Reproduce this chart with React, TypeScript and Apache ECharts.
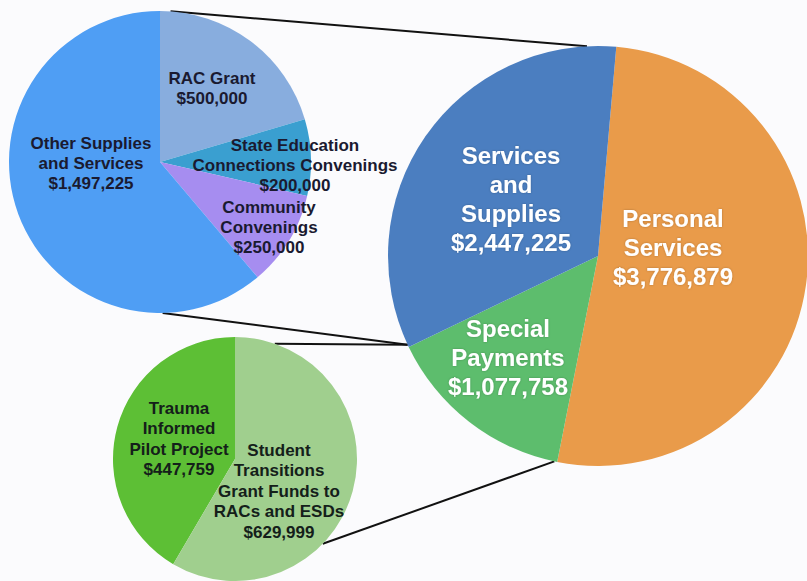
import React, { useEffect, useRef } from "react";
import * as echarts from "echarts";

// ---- Data ----
const mainNames = ["Personal\nServices", "Special\nPayments", "Services\nand\nSupplies"];
const mainValues = [3776879, 1077758, 2447225];

const supplyNames = [
  "RAC Grant",
  "State Education\nConnections Convenings",
  "Community\nConvenings",
  "Other Supplies\nand Services",
];
const supplyValues = [500000, 200000, 250000, 1497225];

const specialNames = [
  "Trauma\nInformed\nPilot Project",
  "Student\nTransitions\nGrant Funds to\nRACs and ESDs",
];
const specialValues = [447759, 629999];

// ---- Styling / layout ----
const mainColors = ["#E99B4A", "#5DBD6D", "#4B7EC0"];
const supplyColors = ["#88ADDE", "#3A9FD0", "#A68DF0", "#4F9EF4"];
const specialColors = ["#5DBF35", "#A0CF8E"];

const mainLabelPos = [[673, 247], [508, 357], [511, 199]];
const supplyLabelPos = [[212, 88], [295, 165], [269, 227], [91, 163]];
const specialLabelPos = [[179, 439], [279, 491]];

const MAIN = { c: [598, 256], r: 210 };
const SUP = { c: [160, 162], r: 151 };
const SPE = { c: [235, 459], r: 122 };

const pt = (p: { c: number[]; r: number }, deg: number) => {
  const a = (deg * Math.PI) / 180;
  return [p.c[0] + p.r * Math.cos(a), p.c[1] - p.r * Math.sin(a)];
};

const fmt = (v: number) => "$" + v.toLocaleString("en-US");
const FONT = "'Liberation Sans', Arial, sans-serif";

function connector(a: number[], b: number[]) {
  return {
    type: "line",
    z: 0,
    shape: { x1: a[0], y1: a[1], x2: b[0], y2: b[1] },
    style: { stroke: "#111", lineWidth: 2 },
  };
}

export default function App() {
  const ref = useRef<HTMLDivElement>(null);
  useEffect(() => {
    if (!ref.current) return;
    const chart = echarts.init(ref.current, undefined, { renderer: "svg" });

    const mk = (
      names: string[],
      values: number[],
      colors: string[],
      pos: number[][],
      geo: { c: number[]; r: number },
      startAngle: number,
      clockwise: boolean,
      label: any
    ) => ({
      type: "pie",
      z: 2,
      center: geo.c,
      radius: geo.r,
      startAngle,
      clockwise,
      avoidLabelOverlap: false,
      silent: true,
      data: names.map((n, i) => ({
        name: n,
        value: values[i],
        itemStyle: { color: colors[i] },
      })),
      label: {
        show: true,
        position: "inside",
        formatter: (p: any) => `${p.name}\n${fmt(p.value)}`,
        fontFamily: FONT,
        fontWeight: "bold",
        align: "center",
        ...label,
      },
      labelLine: { show: false },
      labelLayout: (params: any) => ({
        x: pos[params.dataIndex][0],
        y: pos[params.dataIndex][1],
        align: "center",
        verticalAlign: "middle",
      }),
    });

    chart.setOption({
      animation: false,
      backgroundColor: "#fbfbfd",
      graphic: [
        connector(pt(SUP, 86), pt(MAIN, 93)),
        connector(pt(SUP, -89), pt(MAIN, -155)),
        connector(pt(SPE, 71), pt(MAIN, -155)),
        connector(pt(SPE, -44), pt(MAIN, -102)),
      ],
      series: [
        mk(mainNames, mainValues, mainColors, mainLabelPos, MAIN, 85, true, {
          color: "#ffffff",
          fontSize: 24,
          lineHeight: 29,
          textShadowColor: "rgba(0,0,0,0.25)",
          textShadowBlur: 2,
        }),
        mk(supplyNames, supplyValues, supplyColors, supplyLabelPos, SUP, 90, true, {
          color: "#1a1a30",
          fontSize: 17,
          lineHeight: 20,
        }),
        mk(specialNames, specialValues, specialColors, specialLabelPos, SPE, 90, false, {
          color: "#14201a",
          fontSize: 17,
          lineHeight: 20.5,
        }),
      ],
    });
    return () => chart.dispose();
  }, []);

  return (
    <div
      ref={ref}
      style={{ position: "fixed", left: 0, top: 0, width: 807, height: 581 }}
    />
  );
}
